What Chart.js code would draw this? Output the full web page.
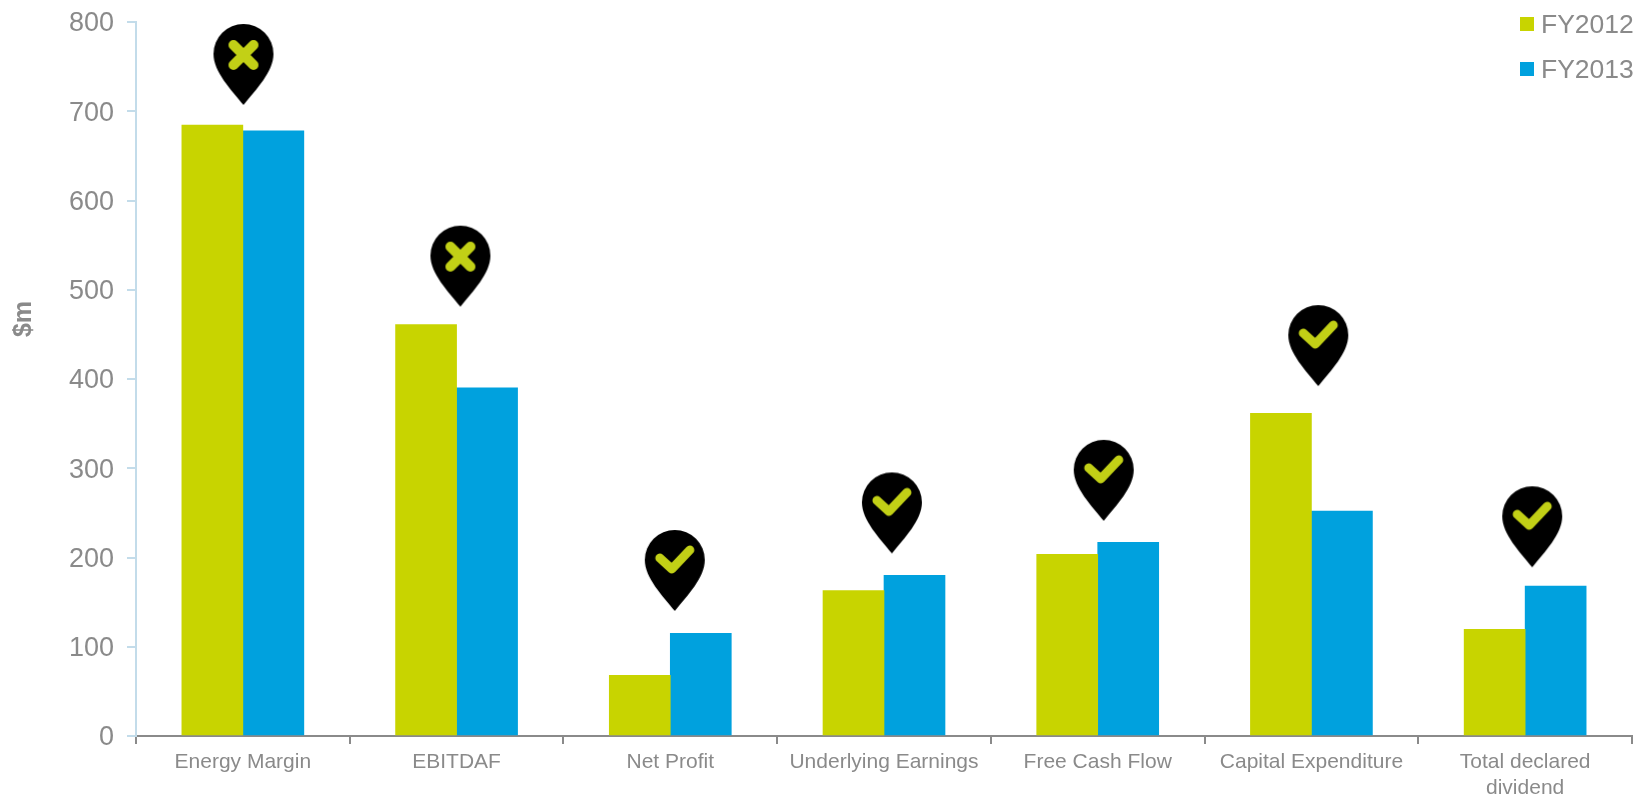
<!DOCTYPE html>
<html>
<head>
<meta charset="utf-8">
<style>
  html, body { margin: 0; padding: 0; background: #fff; }
  #wrap { position: relative; width: 1642px; height: 795px; }
</style>
<script src="https://cdn.jsdelivr.net/npm/chart.js@4"></script>
</head>
<body>
<div id="wrap"><canvas id="chart"></canvas></div>
<script>
// Financial measures, $m
const categories = ['Energy Margin', 'EBITDAF', 'Net Profit', 'Underlying Earnings', 'Free Cash Flow', 'Capital Expenditure', ['Total declared', 'dividend']];
const fy2012 = [684.5, 461, 68, 163, 203.5, 361.5, 119.5];
const fy2013 = [678, 390, 115, 180, 217, 252, 168];

// Status markers: horizontal position in category units, value height, outcome
const markerX = [0.503, 1.518, 2.521, 3.537, 4.528, 5.532, 6.533];
const markerY = [753, 527, 186, 250.5, 287, 438, 235];
const markerKind = ['cross', 'cross', 'tick', 'tick', 'tick', 'tick', 'tick'];

const yTicks = [0, 100, 200, 300, 400, 500, 600, 700, 800];

const LIME = '#c8d400';
const BLUE = '#00a1de';
const GREY = '#8a8a8a';
const FONT = '"Liberation Sans", Arial, sans-serif';

// Builds a black map pin carrying a cross or a tick
function makePin(kind) {
  const c = document.createElement('canvas');
  c.width = 62;
  c.height = 84;
  const g = c.getContext('2d');
  const cx = 31, cy = 32, r = 30, tip = 83;
  g.fillStyle = '#000';
  g.beginPath();
  g.arc(cx, cy, r, Math.PI, 0, false);
  g.bezierCurveTo(cx + r, cy + 18, cx + 12, cy + 36, cx, tip);
  g.bezierCurveTo(cx - 12, cy + 36, cx - r, cy + 18, cx - r, cy);
  g.closePath();
  g.fill();
  g.strokeStyle = '#c2d016';
  g.lineCap = 'round';
  g.lineJoin = 'round';
  g.beginPath();
  if (kind === 'cross') {
    g.lineWidth = 10;
    g.moveTo(cx - 10, cy - 9); g.lineTo(cx + 10, cy + 11);
    g.moveTo(cx + 10, cy - 9); g.lineTo(cx - 10, cy + 11);
  } else {
    g.lineWidth = 9;
    g.moveTo(cx - 15, cy - 2); g.lineTo(cx - 3, cy + 9); g.lineTo(cx + 15, cy - 10);
  }
  g.stroke();
  return c;
}

// Stacked swatch-and-label key in the top right corner, plus the unit caption
const chartNotes = {
  id: 'chartNotes',
  beforeDraw(chart) {
    // Centre the value labels optically on their tick marks
    chart.scales.y.getLabelItems().forEach(item => {
      if (!item.centred) {
        item.options.translation[1] += 2;
        item.centred = true;
      }
    });
  },
  afterDraw(chart) {
    const g = chart.ctx;
    const entries = chart.data.datasets.filter(d => d.type === 'bar');
    g.save();
    g.font = '26.5px ' + FONT;
    g.textBaseline = 'alphabetic';
    g.textAlign = 'left';
    entries.forEach((d, i) => {
      const top = 17 + i * 45;
      g.fillStyle = d.backgroundColor;
      g.fillRect(1520, top, 14, 14);
      g.fillStyle = GREY;
      g.fillText(d.label, 1541, top + 16);
    });
    g.translate(24, 319);
    g.rotate(-Math.PI / 2);
    g.textAlign = 'center';
    g.textBaseline = 'middle';
    g.font = 'bold 25px ' + FONT;
    g.fillText('$m', 0, 0);
    g.restore();
  }
};

new Chart(document.getElementById('chart'), {
  data: {
    labels: categories,
    datasets: [
      { type: 'scatter', label: 'Status', xAxisID: 'markerAxis', yAxisID: 'y', order: 0, clip: false,
        data: markerX.map((x, i) => ({ x, y: markerY[i] })),
        showLine: false, pointStyle: markerKind.map(makePin), pointRadius: 30, pointBorderWidth: 0 },
      { type: 'bar', label: 'FY2012', data: fy2012, backgroundColor: LIME, order: 1, xAxisID: 'x', yAxisID: 'y', barThickness: 61 },
      { type: 'bar', label: 'FY2013', data: fy2013, backgroundColor: BLUE, order: 1, xAxisID: 'x', yAxisID: 'y', barThickness: 61 }
    ]
  },
  options: {
    responsive: true,
    maintainAspectRatio: false,
    animation: false,
    layout: { autoPadding: false, padding: { top: 22, right: 10, bottom: 0, left: 0 } },
    plugins: { legend: { display: false }, tooltip: { enabled: false }, title: { display: false } },
    scales: {
      x: {
        type: 'category',
        position: 'bottom',
        offset: true,
        afterFit(s) { s.height = 59; s.paddingLeft = 0; s.paddingRight = 0; },
        border: { color: GREY, width: 2 },
        grid: { drawOnChartArea: false, drawTicks: true, tickLength: 8, color: GREY, lineWidth: 2, offset: true },
        ticks: { color: GREY, font: { family: FONT, size: 21 }, maxRotation: 0, minRotation: 0, autoSkip: false, padding: 6 }
      },
      markerAxis: { type: 'linear', min: 0, max: 7, display: false },
      y: {
        type: 'linear',
        min: 0,
        max: 800,
        afterFit(s) { s.width = 136; s.paddingTop = 0; s.paddingBottom = 0; },
        afterBuildTicks(s) { s.ticks = yTicks.map(value => ({ value })); },
        border: { color: '#c3dcea', width: 2 },
        grid: { drawOnChartArea: false, drawTicks: true, tickLength: 9, color: '#c3dcea', lineWidth: 2 },
        ticks: { color: GREY, font: { family: FONT, size: 27 }, padding: 13 }
      }
    }
  },
  plugins: [chartNotes]
});
</script>
</body>
</html>
